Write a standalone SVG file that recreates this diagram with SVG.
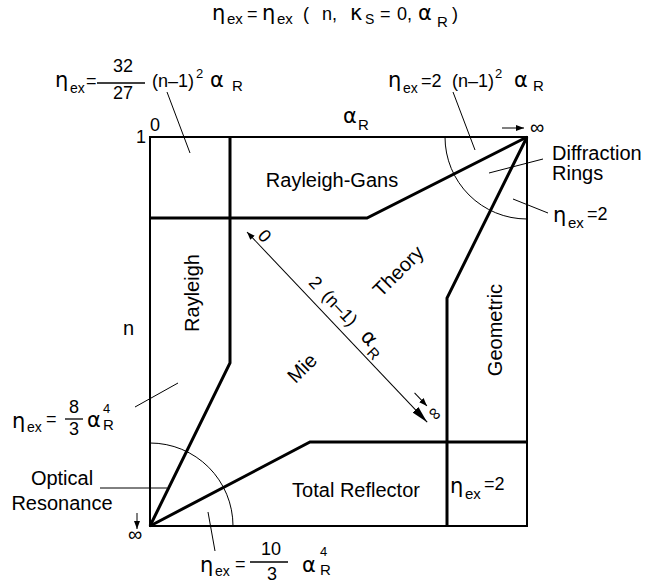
<svg xmlns="http://www.w3.org/2000/svg" width="645" height="584" viewBox="0 0 645 584">
<style>
text{font-family:"Liberation Sans",Arial,sans-serif;fill:#000}
.lb{font-size:20px}
.f{font-size:18px}
.g{font-family:"DejaVu Sans","Liberation Sans",sans-serif;font-size:21px}
.sb{font-size:14px}
.sr{font-size:15px}
.sp{font-size:13px}
.bd{fill:none;stroke:#000;stroke-width:3;stroke-linejoin:miter}
.bx{fill:none;stroke:#000;stroke-width:2}
.th{fill:none;stroke:#000;stroke-width:1}
</style>
<defs>
<marker id="as" markerUnits="userSpaceOnUse" markerWidth="9" markerHeight="7" refX="8" refY="3" orient="auto-start-reverse"><path d="M0,0 L8,3 L0,6 z" fill="#000"/></marker>
<marker id="ab" markerUnits="userSpaceOnUse" markerWidth="18" markerHeight="9" refX="17" refY="4" orient="auto"><path d="M0,0 L17,4 L0,8 z" fill="#000"/></marker>
</defs>

<g id="title">
<text class="f" y="20"><tspan x="212" class="g">η</tspan><tspan x="227" y="24" class="sr">ex</tspan><tspan x="247" y="20">=</tspan><tspan x="262" class="g">η</tspan><tspan x="277" y="24" class="sr">ex</tspan><tspan x="303" y="20">(</tspan><tspan x="322">n,</tspan><tspan x="350" class="g">κ</tspan><tspan x="365" y="24" class="sb">S</tspan><tspan x="380" y="20">=</tspan><tspan x="397">0,</tspan><tspan x="418" class="g">α</tspan><tspan x="437" y="27" class="sr">R</tspan><tspan x="452" y="20">)</tspan></text>
</g>

<g id="frame">
<rect class="bx" x="150" y="137" width="377" height="389"/>
<text class="f" x="150" y="131">0</text>
<text class="f" x="136" y="143">1</text>
<text class="g" x="343" y="123">α</text><text class="sr" x="358" y="130">R</text>
<text class="lb" x="123" y="335">n</text>
</g>

<g id="connectors">
<path class="bd" d="M230,137 V363 L150,526"/>
<path class="bd" d="M150,218 H367 L527,137"/>
<path class="bd" d="M150,526 L310,442 H527"/>
<path class="bd" d="M527,137 L447,298 V526"/>
<path class="th" d="M445,137 A82,82 0 0 0 527,219"/>
<path class="th" d="M150,443 A83,83 0 0 1 233,526"/>
<line class="th" x1="167" y1="92" x2="190" y2="153"/>
<line class="th" x1="453" y1="92" x2="475" y2="150"/>
<line class="th" x1="543" y1="159" x2="489" y2="173"/>
<line class="th" x1="548" y1="213" x2="513" y2="199"/>
<line class="th" x1="135" y1="407" x2="178" y2="383"/>
<line class="th" x1="100" y1="488" x2="167" y2="488"/>
<line class="th" x1="208" y1="512" x2="215" y2="551"/>
<line class="th" x1="502" y1="128" x2="524" y2="128" marker-end="url(#as)"/>
<line class="th" x1="137" y1="513" x2="137" y2="529" marker-end="url(#as)"/>
</g>

<g id="region-rayleigh-gans"><text class="lb" x="332" y="187" text-anchor="middle">Rayleigh-Gans</text></g>
<g id="region-rayleigh"><text class="lb" transform="translate(199,293) rotate(-90)" text-anchor="middle">Rayleigh</text></g>
<g id="region-geometric"><text class="lb" transform="translate(502,330) rotate(-90)" text-anchor="middle">Geometric</text></g>
<g id="region-total"><text class="lb" x="356" y="497" text-anchor="middle">Total Reflector</text></g>
<g id="region-eta2"><text class="f" y="493"><tspan x="450" class="g">η</tspan><tspan x="465" y="499" class="sr">ex</tspan><tspan x="484" y="490">=2</tspan></text></g>
<g id="region-mie">
<text class="lb" transform="translate(302,368) rotate(-45)" text-anchor="middle" y="7">Mie</text>
<text class="lb" transform="translate(398,271) rotate(-45)" text-anchor="middle" y="7">Theory</text>
</g>

<g id="diagonal" transform="translate(247,232) rotate(46.55)">
<line class="th" x1="0" y1="0" x2="262" y2="0" marker-start="url(#as)" marker-end="url(#ab)"/>
<line class="th" x1="232" y1="-11" x2="250" y2="-11" marker-end="url(#as)"/>
<text class="f" x="15" y="-4" text-anchor="middle">0</text>
<text class="f" x="261" y="-6" text-anchor="middle">∞</text>
<text class="f" y="-9"><tspan x="79">2</tspan><tspan x="98">(n–1)</tspan><tspan x="154" class="g">α</tspan><tspan x="170" y="-3" class="sr">R</tspan></text>
</g>

<g id="formula-topleft">
<text class="f" y="87"><tspan x="55" class="g">η</tspan><tspan x="70" y="93" class="sb">ex</tspan><tspan x="86" y="87">=</tspan><tspan x="152">(n–1)</tspan><tspan x="196" y="78" class="sp">2</tspan><tspan x="210" y="87" class="g">α</tspan><tspan x="232" y="91" class="sr">R</tspan></text>
<line x1="97" y1="83" x2="145" y2="83" stroke="#000" stroke-width="1.3"/>
<text class="f" x="123" y="72" text-anchor="middle">32</text>
<text class="f" x="123" y="99" text-anchor="middle">27</text>
</g>

<g id="formula-topright">
<text class="f" y="87"><tspan x="388" class="g">η</tspan><tspan x="403" y="93" class="sb">ex</tspan><tspan x="421" y="87">=2</tspan><tspan x="452">(n–1)</tspan><tspan x="495" y="78" class="sp">2</tspan><tspan x="514" y="87" class="g">α</tspan><tspan x="533" y="91" class="sr">R</tspan></text>
<text class="lb" x="530" y="134">∞</text>
</g>

<g id="label-diffraction">
<text class="lb" x="552" y="160">Diffraction</text>
<text class="lb" x="552" y="180">Rings</text>
</g>

<g id="label-eta2-right">
<text class="f" y="222"><tspan x="553" class="g">η</tspan><tspan x="568" y="228" class="sr">ex</tspan><tspan x="587" y="220">=2</tspan></text>
</g>

<g id="formula-left">
<text class="f" y="428"><tspan x="12" class="g">η</tspan><tspan x="27" y="432" class="sb">ex</tspan><tspan x="46" y="425">=</tspan><tspan x="87" y="427" class="g">α</tspan><tspan x="103" y="413" class="sp">4</tspan><tspan x="103" y="430" class="sr">R</tspan></text>
<line x1="65" y1="419" x2="83" y2="419" stroke="#000" stroke-width="1.3"/>
<text class="f" x="74" y="413" text-anchor="middle">8</text>
<text class="f" x="74" y="435" text-anchor="middle">3</text>
</g>

<g id="label-optical">
<text class="lb" x="62" y="485" text-anchor="middle">Optical</text>
<text class="lb" x="62" y="510" text-anchor="middle">Resonance</text>
<text class="lb" x="128" y="541">∞</text>
</g>

<g id="formula-bottom">
<text class="f" y="572"><tspan x="200" class="g">η</tspan><tspan x="215" y="576" class="sb">ex</tspan><tspan x="235" y="570">=</tspan><tspan x="302" y="572" class="g">α</tspan><tspan x="320" y="556" class="sp">4</tspan><tspan x="320" y="575" class="sr">R</tspan></text>
<line x1="250" y1="562" x2="288" y2="562" stroke="#000" stroke-width="1.3"/>
<text class="f" x="271" y="555" text-anchor="middle">10</text>
<text class="f" x="272" y="580" text-anchor="middle">3</text>
</g>
</svg>
